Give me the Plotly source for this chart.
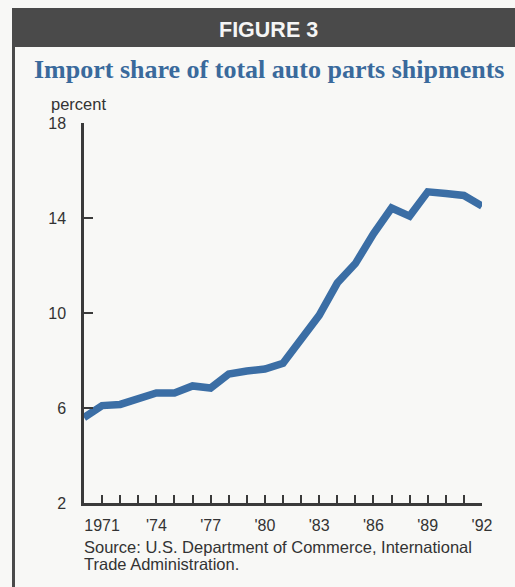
import plotly.graph_objects as go

years = list(range(1970, 1993))
import_share = [5.6, 6.1, 6.15, 6.42, 6.63, 6.63, 6.93, 6.84, 7.43, 7.56, 7.64, 7.88,
                8.95, 9.9, 11.26, 12.08, 13.33, 14.42, 14.08, 15.1, 15.03, 14.95, 14.5]
tick_years = list(range(1970, 1993))
tick_text = ["", "1971", "", "", "'74", "", "", "'77", "", "", "'80", "", "", "'83",
             "", "", "'86", "", "", "'89", "", "", "'92"]
y_ticks = [2, 6, 10, 14, 18]

W, H = 515, 587
BG = "#f8f8f6"
DARK = "#3a3a3a"
BLUE = "#3b6ea5"
SANS = "Liberation Sans, Arial, Helvetica"

def px(x):
    return x / W

def py(y):
    return 1 - y / H

fig = go.Figure()
fig.add_trace(go.Scatter(x=years, y=import_share, mode="lines",
                         line=dict(color=BLUE, width=7.5), hoverinfo="skip"))

fig.update_layout(
    width=W, height=H, autosize=False,
    margin=dict(l=0, r=0, t=0, b=0, pad=0),
    paper_bgcolor=BG, plot_bgcolor=BG,
    showlegend=False,
    xaxis=dict(domain=[px(84), px(482)], range=[1970, 1992],
               tickvals=tick_years, ticktext=tick_text,
               ticks="inside", ticklen=8, tickwidth=2, tickcolor=DARK,
               showline=True, linecolor=DARK, linewidth=2.5,
               showgrid=False, zeroline=False, fixedrange=True, automargin=False,
               ticklabelstandoff=6,
               tickfont=dict(family=SANS, size=16, color="#333")),
    yaxis=dict(domain=[py(503), py(123)], range=[2, 18],
               tickvals=y_ticks,
               ticks="inside", ticklen=9, tickwidth=2, tickcolor=DARK,
               showline=True, linecolor=DARK, linewidth=2.5,
               showgrid=False, zeroline=False, fixedrange=True, automargin=False,
               ticklabelstandoff=12,
               tickfont=dict(family=SANS, size=16, color="#333")),
    shapes=[
        dict(type="rect", xref="paper", yref="paper", x0=px(12), x1=1.0,
             y0=py(47), y1=py(8), fillcolor="#4a4a4a", line=dict(width=0), layer="below"),
        dict(type="rect", xref="paper", yref="paper", x0=px(12), x1=px(15),
             y0=0, y1=py(47), fillcolor="#4a4a4a", line=dict(width=0), layer="below"),
    ],
    annotations=[
        dict(text="<b>FIGURE 3</b>", x=px(268), y=py(30), xref="paper", yref="paper",
             showarrow=False, xanchor="center", yanchor="middle",
             font=dict(family=SANS, size=21.5, color="#f5f5f5")),
        dict(text="<b>Import share of total auto parts shipments</b>", x=px(269), y=py(70),
             xref="paper", yref="paper", showarrow=False, xanchor="center", yanchor="middle",
             font=dict(family="Liberation Serif, Times New Roman", size=26, color="#3a6a9c")),
        dict(text="percent", x=px(49), y=py(104), xref="paper", yref="paper",
             showarrow=False, xanchor="left", yanchor="middle",
             font=dict(family=SANS, size=16.5, color="#333")),
        dict(text="Source: U.S. Department of Commerce, International",
             x=px(82), y=py(547), xref="paper", yref="paper", showarrow=False,
             xanchor="left", yanchor="middle", align="left",
             font=dict(family=SANS, size=16.5, color="#333")),
        dict(text="Trade Administration.",
             x=px(82), y=py(564), xref="paper", yref="paper", showarrow=False,
             xanchor="left", yanchor="middle", align="left",
             font=dict(family=SANS, size=16.5, color="#333")),
    ],
)

fig.write_html("out.html", config={"responsive": False, "displayModeBar": False},
               post_script="document.body.style.margin='0';document.body.style.overflow='hidden';document.documentElement.style.overflow='hidden';")
